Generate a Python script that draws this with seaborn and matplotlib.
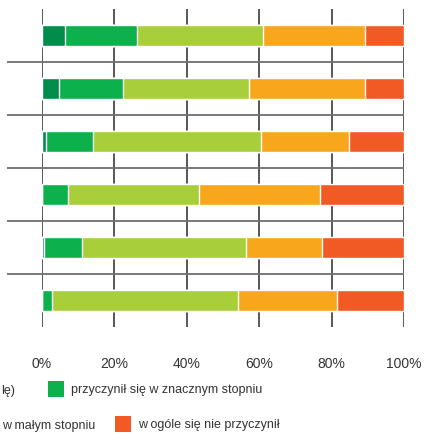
import matplotlib.pyplot as plt
import matplotlib.patches as mpatches
import seaborn as sns
import pandas as pd
import numpy as np

sns.set_style('white')
plt.rcParams['font.family'] = ['Liberation Sans', 'DejaVu Sans']

# Data (percent shares per row)
categories = ['A', 'B', 'C', 'D', 'E', 'F']
series_names = [
    'lę)',
    'przyczynił się w znacznym stopniu',
    'przyczynił się w średnim stopniu',
    'w małym stopniu',
    'w ogóle się nie przyczynił',
]
decisive = [6.5, 4.8, 1.2, 0.0, 0.7, 0.0]
significant = [19.8, 17.8, 13.0, 7.3, 10.5, 2.9]
medium = [34.9, 34.6, 46.4, 36.1, 45.2, 51.3]
small = [28.1, 32.1, 24.2, 33.4, 21.0, 27.3]
none_ = [10.7, 10.7, 15.2, 23.2, 22.6, 18.5]
colors = ['#008C4A', '#0CB14B', '#A8CE3A', '#F8A61C', '#F15A24']
xticks = [0, 20, 40, 60, 80, 100]

df = pd.DataFrame({'kategoria': categories,
                   series_names[0]: decisive,
                   series_names[1]: significant,
                   series_names[2]: medium,
                   series_names[3]: small,
                   series_names[4]: none_})
cum = df[series_names].cumsum(axis=1)

fig = plt.figure(figsize=(4.24, 4.35), dpi=100)
W, H = 424, 435
ax = fig.add_axes([41.5 / W, 1 - 328 / H, 362.5 / W, 318 / H])

# vertical grid lines behind bars
for t in xticks:
    ax.axvline(t, color='#4a4a4a', lw=1.3, zorder=0)

# stacked bars: draw cumulative totals from the last series backwards
for name, col in reversed(list(zip(series_names, colors))):
    sns.barplot(x=cum[name], y=df['kategoria'], color=col, orient='h',
                width=0.415, saturation=1, ax=ax, zorder=2)

# horizontal separators between rows, extending to the left
ax.hlines(np.arange(len(categories) - 1) + 0.5, -0.095, 1,
          transform=ax.get_yaxis_transform(), color='#6e6e6e', lw=1.3,
          clip_on=False, zorder=1)

ax.set_xlim(0, 100)
ax.set_ylim(len(categories) - 0.5, -0.5)
ax.set_xticks(xticks)
ax.set_xticklabels([f'{t}%' for t in xticks])
ax.tick_params(axis='x', length=0, pad=21, labelsize=10, labelcolor='#333333')
ax.tick_params(axis='y', left=False, labelleft=False)
ax.set_xlabel('')
ax.set_ylabel('')
for s in ax.spines.values():
    s.set_visible(False)

# legend (cropped layout, two rows)
def legend_item(x_box, y_center, col, label):
    fig.patches.append(mpatches.Rectangle((x_box / W, 1 - (y_center + 8) / H), 16 / W, 16 / H,
                                          facecolor=col, edgecolor='none',
                                          transform=fig.transFigure, figure=fig))
    fig.text((x_box + 23) / W, 1 - y_center / H, label, ha='left', va='center',
             fontsize=9, color='#333333')

fig.text(14.5 / W, 1 - 391 / H, series_names[0], ha='right', va='center',
         fontsize=9, color='#333333')
legend_item(48, 390, colors[1], series_names[1])
fig.text(2 / W, 1 - 426 / H, series_names[3], ha='left', va='center',
         fontsize=9, color='#333333')
legend_item(115, 425, colors[4], series_names[4])

fig.savefig('out.png', dpi=100)
